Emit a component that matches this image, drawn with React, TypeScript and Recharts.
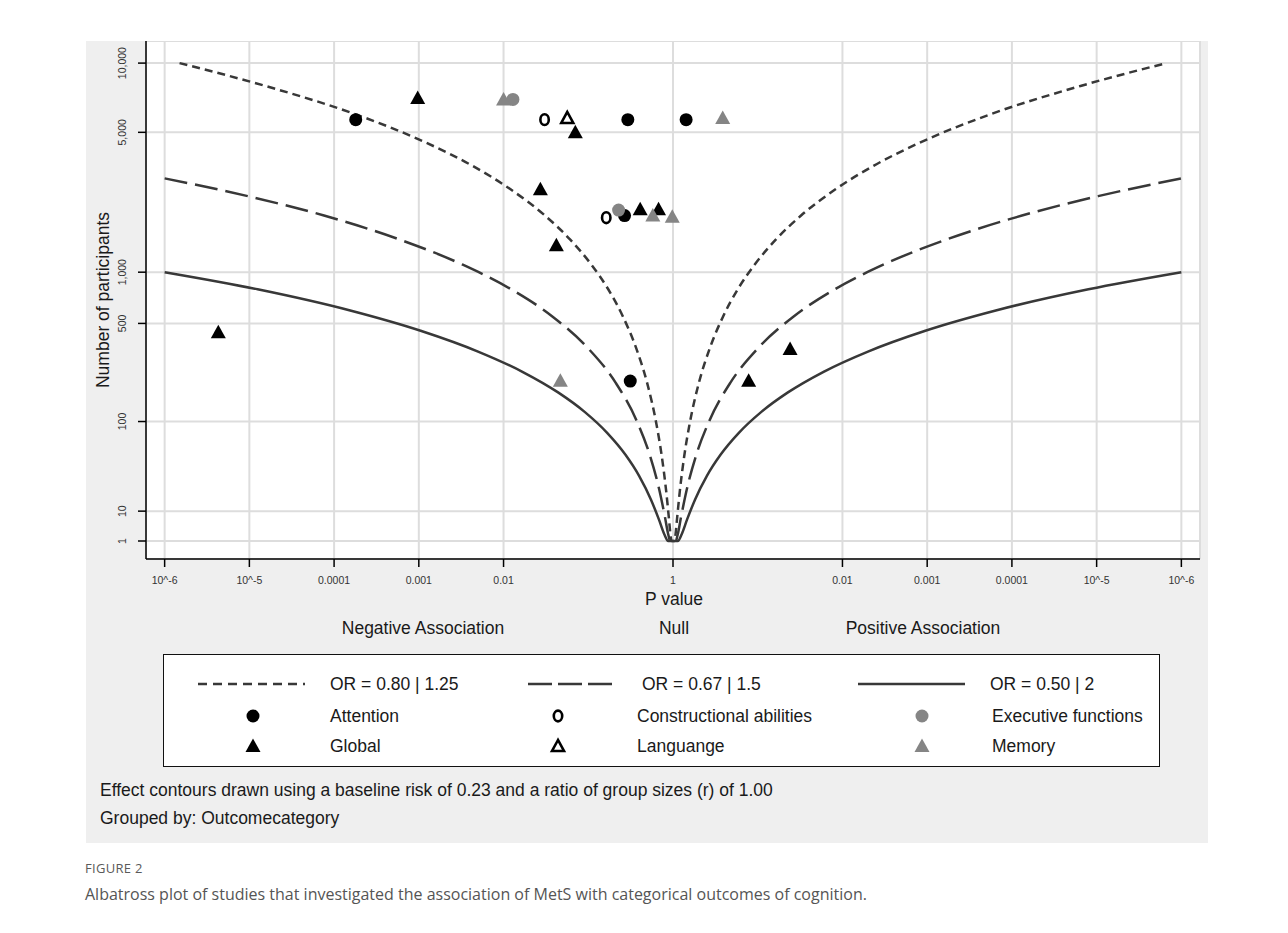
import React from 'react';
import { CartesianGrid, Scatter, ScatterChart, XAxis, YAxis } from 'recharts';

// x axis is signed log10(P): negative association on the left, positive on the right
const xTicks = [-6, -5, -4, -3, -2, 0, 2, 3, 4, 5, 6];
const xTickLabels = ['10^-6', '10^-5', '0.0001', '0.001', '0.01', '1', '0.01', '0.001', '0.0001', '10^-5', '10^-6'];

// y axis is (log10 N)^2
const yTickValues = [1, 10, 100, 500, 1000, 5000, 10000];
const yTickLabels = ['1', '10', '100', '500', '1,000', '5,000', '10,000'];

const contour080 = [
  { n: 10000, p: 1.5e-6 },
  { n: 8000, p: 1.55e-5 },
  { n: 6000, p: 1.84e-4 },
  { n: 4500, p: 1.2e-3 },
  { n: 3500, p: 0.0043 },
  { n: 2700, p: 0.0121 },
  { n: 2000, p: 0.0308 },
  { n: 1500, p: 0.0613 },
  { n: 1100, p: 0.109 },
  { n: 800, p: 0.172 },
  { n: 550, p: 0.257 },
  { n: 350, p: 0.366 },
  { n: 200, p: 0.495 },
  { n: 100, p: 0.629 },
  { n: 50, p: 0.733 },
  { n: 20, p: 0.829 },
  { n: 8, p: 0.891 },
  { n: 3, p: 0.933 },
  { n: 1, p: 0.961 },
];

const contour067 = [
  { n: 3050, p: 1e-6 },
  { n: 2500, p: 9.6e-6 },
  { n: 2000, p: 7.6e-5 },
  { n: 1500, p: 6e-4 },
  { n: 1100, p: 0.0033 },
  { n: 800, p: 0.0123 },
  { n: 550, p: 0.038 },
  { n: 350, p: 0.098 },
  { n: 200, p: 0.211 },
  { n: 100, p: 0.376 },
  { n: 50, p: 0.531 },
  { n: 20, p: 0.692 },
  { n: 8, p: 0.802 },
  { n: 3, p: 0.878 },
  { n: 1, p: 0.929 },
];

const contour050 = [
  { n: 1000, p: 1e-6 },
  { n: 800, p: 1.25e-5 },
  { n: 600, p: 1.55e-4 },
  { n: 450, p: 1.05e-3 },
  { n: 330, p: 0.005 },
  { n: 240, p: 0.0167 },
  { n: 170, p: 0.044 },
  { n: 120, p: 0.0906 },
  { n: 80, p: 0.167 },
  { n: 50, p: 0.275 },
  { n: 30, p: 0.398 },
  { n: 15, p: 0.55 },
  { n: 7, p: 0.683 },
  { n: 3, p: 0.789 },
  { n: 1, p: 0.877 },
];

// studies: p value, side (-1 negative, 1 positive association), participants
const attention = [
  { p: 0.00018, side: -1, n: 5700 },
  { p: 0.293, side: -1, n: 5700 },
  { p: 0.7, side: 1, n: 5700 },
  { p: 0.268, side: -1, n: 2000 },
  { p: 0.313, side: -1, n: 206 },
];
const constructional = [
  { p: 0.0305, side: -1, n: 5700 },
  { p: 0.163, side: -1, n: 1950 },
];
const executive = [
  { p: 0.0129, side: -1, n: 7000 },
  { p: 0.228, side: -1, n: 2130 },
];
const global = [
  { p: 0.0000043, side: -1, n: 441 },
  { p: 0.00097, side: -1, n: 7100 },
  { p: 0.0703, side: -1, n: 5000 },
  { p: 0.0272, side: -1, n: 2700 },
  { p: 0.042, side: -1, n: 1400 },
  { p: 0.41, side: -1, n: 2150 },
  { p: 0.675, side: -1, n: 2150 },
  { p: 0.128, side: 1, n: 207 },
  { p: 0.0415, side: 1, n: 343 },
];
const language = [{ p: 0.0565, side: -1, n: 5800 }];
const memory = [
  { p: 0.01, side: -1, n: 7000 },
  { p: 0.259, side: 1, n: 5800 },
  { p: 0.578, side: -1, n: 2000 },
  { p: 0.98, side: -1, n: 1970 },
  { p: 0.0468, side: -1, n: 207 },
];

const FONT = "'Liberation Sans', Arial, sans-serif";
const LINE = '#383838';
const GRAY = '#858585';

const ny = (n: number) => Math.log10(n) ** 2;
const toPoints = (rows: { p: number; side: number; n: number }[]) =>
  rows.map((d) => ({ x: -d.side * Math.log10(d.p), y: ny(d.n) }));
const contourPath = (rows: { n: number; p: number }[]) => [
  ...rows.map((d) => ({ x: Math.log10(d.p), y: ny(d.n) })),
  ...[...rows].reverse().map((d) => ({ x: -Math.log10(d.p), y: ny(d.n) })),
];

function marker(kind: 'circle' | 'triangle', fill: string, hollow = false) {
  return (props: any) => {
    const { cx, cy } = props;
    if (cx == null || cy == null) return <g />;
    if (kind === 'circle') {
      return hollow ? (
        <ellipse cx={cx} cy={cy} rx={4.2} ry={5.4} fill='#fff' stroke='#000' strokeWidth={2.6} />
      ) : (
        <circle cx={cx} cy={cy} r={6.5} fill={fill} />
      );
    }
    return hollow ? (
      <polygon
        points={`${cx},${cy - 6} ${cx - 6},${cy + 5} ${cx + 6},${cy + 5}`}
        fill='#fff'
        stroke='#000'
        strokeWidth={2.6}
      />
    ) : (
      <polygon points={`${cx},${cy - 7.5} ${cx - 7.5},${cy + 6} ${cx + 7.5},${cy + 6}`} fill={fill} />
    );
  };
}

const noShape = () => <g />;

function XTick(props: any) {
  const { x, payload } = props;
  const i = xTicks.findIndex((v) => Math.abs(v - payload.value) < 1e-6);
  return (
    <text x={x} y={539} textAnchor='middle' dominantBaseline='central' fontSize={10.5} fill='#333' fontFamily={FONT}>
      {xTickLabels[i]}
    </text>
  );
}

function YTick(props: any) {
  const { y, payload } = props;
  const i = yTickValues.findIndex((v) => Math.abs(ny(v) - payload.value) < 1e-6);
  return (
    <text
      x={36}
      y={y}
      transform={`rotate(-90 36 ${y})`}
      textAnchor='middle'
      dominantBaseline='central'
      fontSize={10.5}
      fill='#333'
      fontFamily={FONT}
    >
      {yTickLabels[i]}
    </text>
  );
}

function Mark({ kind, fill, hollow }: { kind: 'circle' | 'triangle'; fill: string; hollow?: boolean }) {
  const Shape = marker(kind, fill, hollow);
  return (
    <svg width={20} height={20} style={{ display: 'block' }}>
      <Shape cx={10} cy={10} />
    </svg>
  );
}

function LegendLine({ dash, width }: { dash?: string; width: number }) {
  return (
    <svg width={width} height={8} style={{ display: 'block' }}>
      <line x1={0} y1={4} x2={width} y2={4} stroke={LINE} strokeWidth={2.5} strokeDasharray={dash} />
    </svg>
  );
}

const abs = (left: number, top: number, extra: React.CSSProperties = {}): React.CSSProperties => ({
  position: 'absolute',
  left,
  top,
  transform: 'translate(0, -50%)',
  whiteSpace: 'nowrap',
  ...extra,
});
const centred = { transform: 'translate(-50%, -50%)' };

export default function App() {
  const yTicks = yTickValues.map(ny);
  const textStyle: React.CSSProperties = { fontFamily: FONT, fontSize: 17.5, color: '#1a1a1a' };
  const titleStyle: React.CSSProperties = { fontFamily: FONT, fontSize: 17.5, color: '#1a1a1a' };

  return (
    <div style={{ position: 'relative', width: 1288, height: 933, margin: -8, overflow: 'hidden', background: '#fff' }}>
      <div
        style={{
          position: 'absolute',
          left: 7,
          top: 7,
          width: 1400,
          height: 1000,
          borderTop: '1px solid #c4c4c4',
          borderLeft: '1px solid #c4c4c4',
        }}
      />
      <div style={{ position: 'absolute', left: 86, top: 41, width: 1122, height: 802, background: '#efefef' }} />

      <div style={{ position: 'absolute', left: 86, top: 41 }}>
        <ScatterChart width={1122} height={560} margin={{ top: 0, right: 8, bottom: 0, left: 0 }}>
          <CartesianGrid fill='#fff' stroke='#dddddd' strokeWidth={2} />
          <XAxis
            type='number'
            dataKey='x'
            domain={[-6.22, 6.22]}
            ticks={xTicks}
            interval={0}
            height={42}
            tickSize={8}
            axisLine={{ stroke: '#000', strokeWidth: 1.5 }}
            tickLine={{ stroke: '#000', strokeWidth: 1.5 }}
            tick={<XTick />}
            allowDataOverflow
          />
          <YAxis
            type='number'
            dataKey='y'
            domain={[-0.6025, 16.74]}
            ticks={yTicks}
            interval={0}
            width={60}
            tickSize={8}
            axisLine={{ stroke: '#000', strokeWidth: 1.5 }}
            tickLine={{ stroke: '#000', strokeWidth: 1.5 }}
            tick={<YTick />}
            allowDataOverflow
          />
          <Scatter
            data={contourPath(contour080)}
            shape={noShape}
            line={{ stroke: LINE, strokeWidth: 2.5, strokeDasharray: '8 5' }}
            lineJointType='monotoneX'
            isAnimationActive={false}
          />
          <Scatter
            data={contourPath(contour067)}
            shape={noShape}
            line={{ stroke: LINE, strokeWidth: 2.5, strokeDasharray: '23 8' }}
            lineJointType='monotoneX'
            isAnimationActive={false}
          />
          <Scatter
            data={contourPath(contour050)}
            shape={noShape}
            line={{ stroke: LINE, strokeWidth: 2.5 }}
            lineJointType='monotoneX'
            isAnimationActive={false}
          />
          <Scatter data={toPoints(attention)} shape={marker('circle', '#000')} isAnimationActive={false} />
          <Scatter data={toPoints(constructional)} shape={marker('circle', '#000', true)} isAnimationActive={false} />
          <Scatter data={toPoints(executive)} shape={marker('circle', GRAY)} isAnimationActive={false} />
          <Scatter data={toPoints(global)} shape={marker('triangle', '#000')} isAnimationActive={false} />
          <Scatter data={toPoints(language)} shape={marker('triangle', '#000', true)} isAnimationActive={false} />
          <Scatter data={toPoints(memory)} shape={marker('triangle', GRAY)} isAnimationActive={false} />
        </ScatterChart>
      </div>

      <div
        style={{
          ...titleStyle,
          position: 'absolute',
          left: 103,
          top: 300,
          transform: 'translate(-50%, -50%) rotate(-90deg)',
          whiteSpace: 'nowrap',
        }}
      >
        Number of participants
      </div>
      <div style={{ ...titleStyle, ...abs(674, 599, centred) }}>P value</div>
      <div style={{ ...titleStyle, ...abs(423, 628, centred) }}>Negative Association</div>
      <div style={{ ...titleStyle, ...abs(674, 628, centred) }}>Null</div>
      <div style={{ ...titleStyle, ...abs(923, 628, centred) }}>Positive Association</div>

      <div
        style={{
          position: 'absolute',
          left: 163,
          top: 654,
          width: 995,
          height: 111,
          background: '#fff',
          border: '1.5px solid #111',
        }}
      />
      <div style={abs(198, 684)}><LegendLine dash='9 6' width={107} /></div>
      <div style={{ ...textStyle, ...abs(330, 684) }}>OR = 0.80 | 1.25</div>
      <div style={abs(528, 684)}><LegendLine dash='24 6' width={84} /></div>
      <div style={{ ...textStyle, ...abs(642, 684) }}>OR = 0.67 | 1.5</div>
      <div style={abs(858, 684)}><LegendLine width={107} /></div>
      <div style={{ ...textStyle, ...abs(990, 684) }}>OR = 0.50 | 2</div>

      <div style={abs(243, 716)}><Mark kind='circle' fill='#000' /></div>
      <div style={{ ...textStyle, ...abs(330, 716) }}>Attention</div>
      <div style={abs(548, 716)}><Mark kind='circle' fill='#000' hollow /></div>
      <div style={{ ...textStyle, ...abs(637, 716) }}>Constructional abilities</div>
      <div style={abs(912, 716)}><Mark kind='circle' fill={GRAY} /></div>
      <div style={{ ...textStyle, ...abs(992, 716) }}>Executive functions</div>

      <div style={abs(243, 746)}><Mark kind='triangle' fill='#000' /></div>
      <div style={{ ...textStyle, ...abs(330, 746) }}>Global</div>
      <div style={abs(548, 746)}><Mark kind='triangle' fill='#000' hollow /></div>
      <div style={{ ...textStyle, ...abs(637, 746) }}>Languange</div>
      <div style={abs(912, 746)}><Mark kind='triangle' fill={GRAY} /></div>
      <div style={{ ...textStyle, ...abs(992, 746) }}>Memory</div>

      <div style={{ ...textStyle, ...abs(100, 790) }}>
        Effect contours drawn using a baseline risk of 0.23 and a ratio of group sizes (r) of 1.00
      </div>
      <div style={{ ...textStyle, ...abs(100, 818) }}>Grouped by: Outcomecategory</div>

      <div
        style={abs(85, 868, {
          fontFamily: "'Open Sans', 'Noto Sans', sans-serif",
          fontSize: 13,
          color: '#5a5a5a',
          letterSpacing: 0.3,
        })}
      >
        FIGURE 2
      </div>
      <div
        style={abs(85, 894, {
          fontFamily: "'Open Sans', 'Noto Sans', sans-serif",
          fontSize: 16,
          color: '#555',
        })}
      >
        Albatross plot of studies that investigated the association of MetS with categorical outcomes of cognition.
      </div>
    </div>
  );
}
